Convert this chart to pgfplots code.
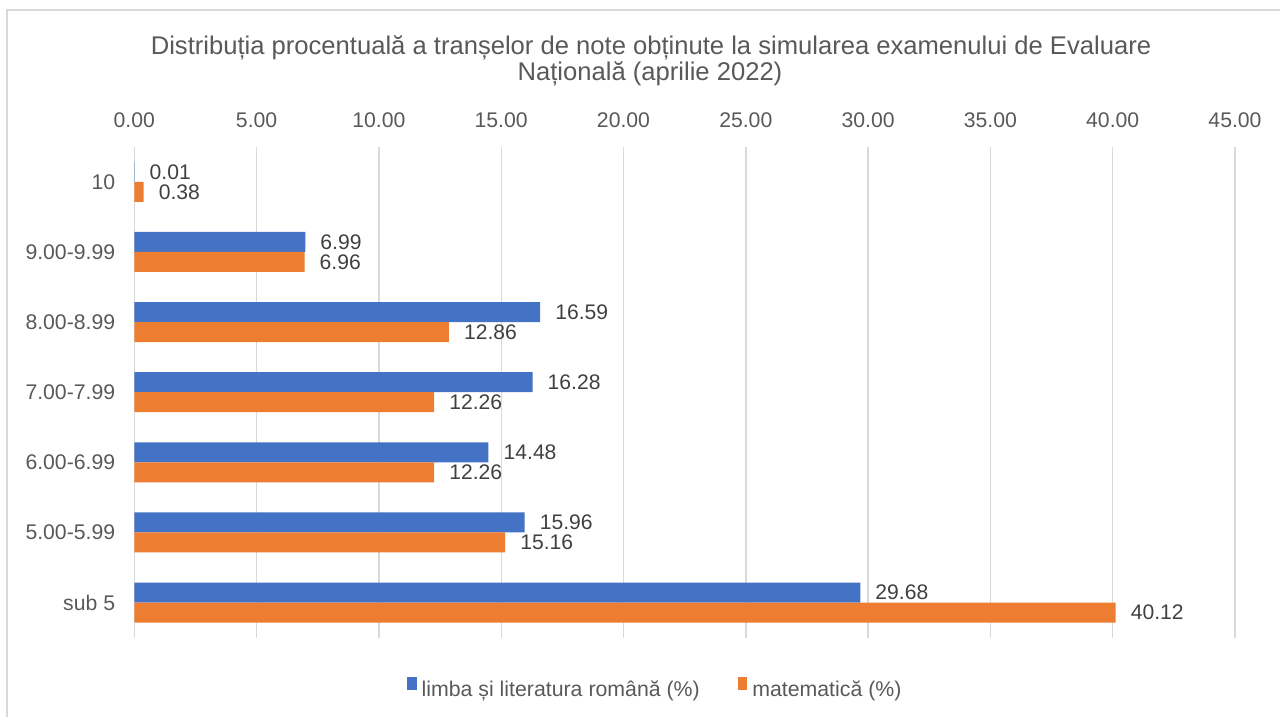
\documentclass[border=0pt]{standalone}
\usepackage{pgfplots}
\pgfplotsset{compat=1.18}
\usepackage{fontspec}
\setmainfont{Liberation Sans}
\definecolor{cblue}{HTML}{4472C4}
\definecolor{corange}{HTML}{ED7D31}
\definecolor{gridc}{HTML}{D9D9D9}
\definecolor{txt}{HTML}{595959}
\definecolor{dtxt}{HTML}{404040}
\begin{document}
\begin{tikzpicture}
\path[use as bounding box] (0pt,0pt) rectangle (1280pt,-717pt);
\draw[gridc, line width=1.6pt] (7pt,-717pt) -- (7pt,-10pt) -- (1280pt,-10pt);
\node[anchor=base, text=txt, font=\fontsize{25.6}{30}\selectfont] at (651pt,-54.5pt) {Distribuția procentuală a tranșelor de note obținute la simularea examenului de Evaluare};
\node[anchor=base, text=txt, font=\fontsize{25.6}{30}\selectfont] at (650pt,-80.5pt) {Națională (aprilie 2022)};
\begin{axis}[
  at={(134.3pt,-146.7pt)}, anchor=north west,
  scale only axis, width=1100.7pt, height=491pt,
  xbar, xmin=0, xmax=45, ymin=-0.5, ymax=6.5,
  bar width=0.285,
  axis line style={draw=none},
  xmajorgrids, major grid style={gridc, line width=1.4pt},
  major tick length=0pt,
  xtick={0,5,...,45},
  xticklabel pos=upper,
  /pgf/number format/assume math mode=true,
  xticklabel={\pgfmathprintnumber[fixed,fixed zerofill,precision=2]{\tick}},
  xticklabel style={anchor=south, inner sep=0pt, yshift=19pt, text=txt, font=\fontsize{21.2}{25}\selectfont},
  ytick={0,...,6},
  yticklabels={sub 5,5.00-5.99,6.00-6.99,7.00-7.99,8.00-8.99,9.00-9.99,10},
  yticklabel style={anchor=east, inner sep=0pt, xshift=-19pt, text=txt, font=\fontsize{21.2}{25}\selectfont},
  nodes near coords={\pgfmathprintnumber[fixed,fixed zerofill,precision=2]{\pgfplotspointmeta}},
  nodes near coords style={anchor=west, inner sep=0pt, xshift=15pt, text=dtxt, font=\fontsize{21.1}{25}\selectfont},
  legend columns=2,
  legend style={at={(0.2477,-0.1014)}, anchor=west, draw=none, fill=none, inner sep=0pt,
    font=\fontsize{21.3}{25}\selectfont, text=txt,
    nodes={inner sep=0pt},
    /tikz/every odd column/.append style={column sep=5pt},
    /tikz/every even column/.append style={column sep=38pt}},
  legend image code/.code={\fill[#1] (0pt,-0.5pt) rectangle (9.5pt,11.8pt);},
]
\addplot[fill=cblue, draw=none, bar shift=0.1425] coordinates {(0.01,6) (6.99,5) (16.59,4) (16.28,3) (14.48,2) (15.96,1) (29.68,0)};
\addlegendentry{limba și literatura română (\%)}
\addplot[fill=corange, draw=none, bar shift=-0.1425] coordinates {(0.38,6) (6.96,5) (12.86,4) (12.26,3) (12.26,2) (15.16,1) (40.12,0)};
\addlegendentry{matematică (\%)}
\end{axis}
\end{tikzpicture}
\end{document}
